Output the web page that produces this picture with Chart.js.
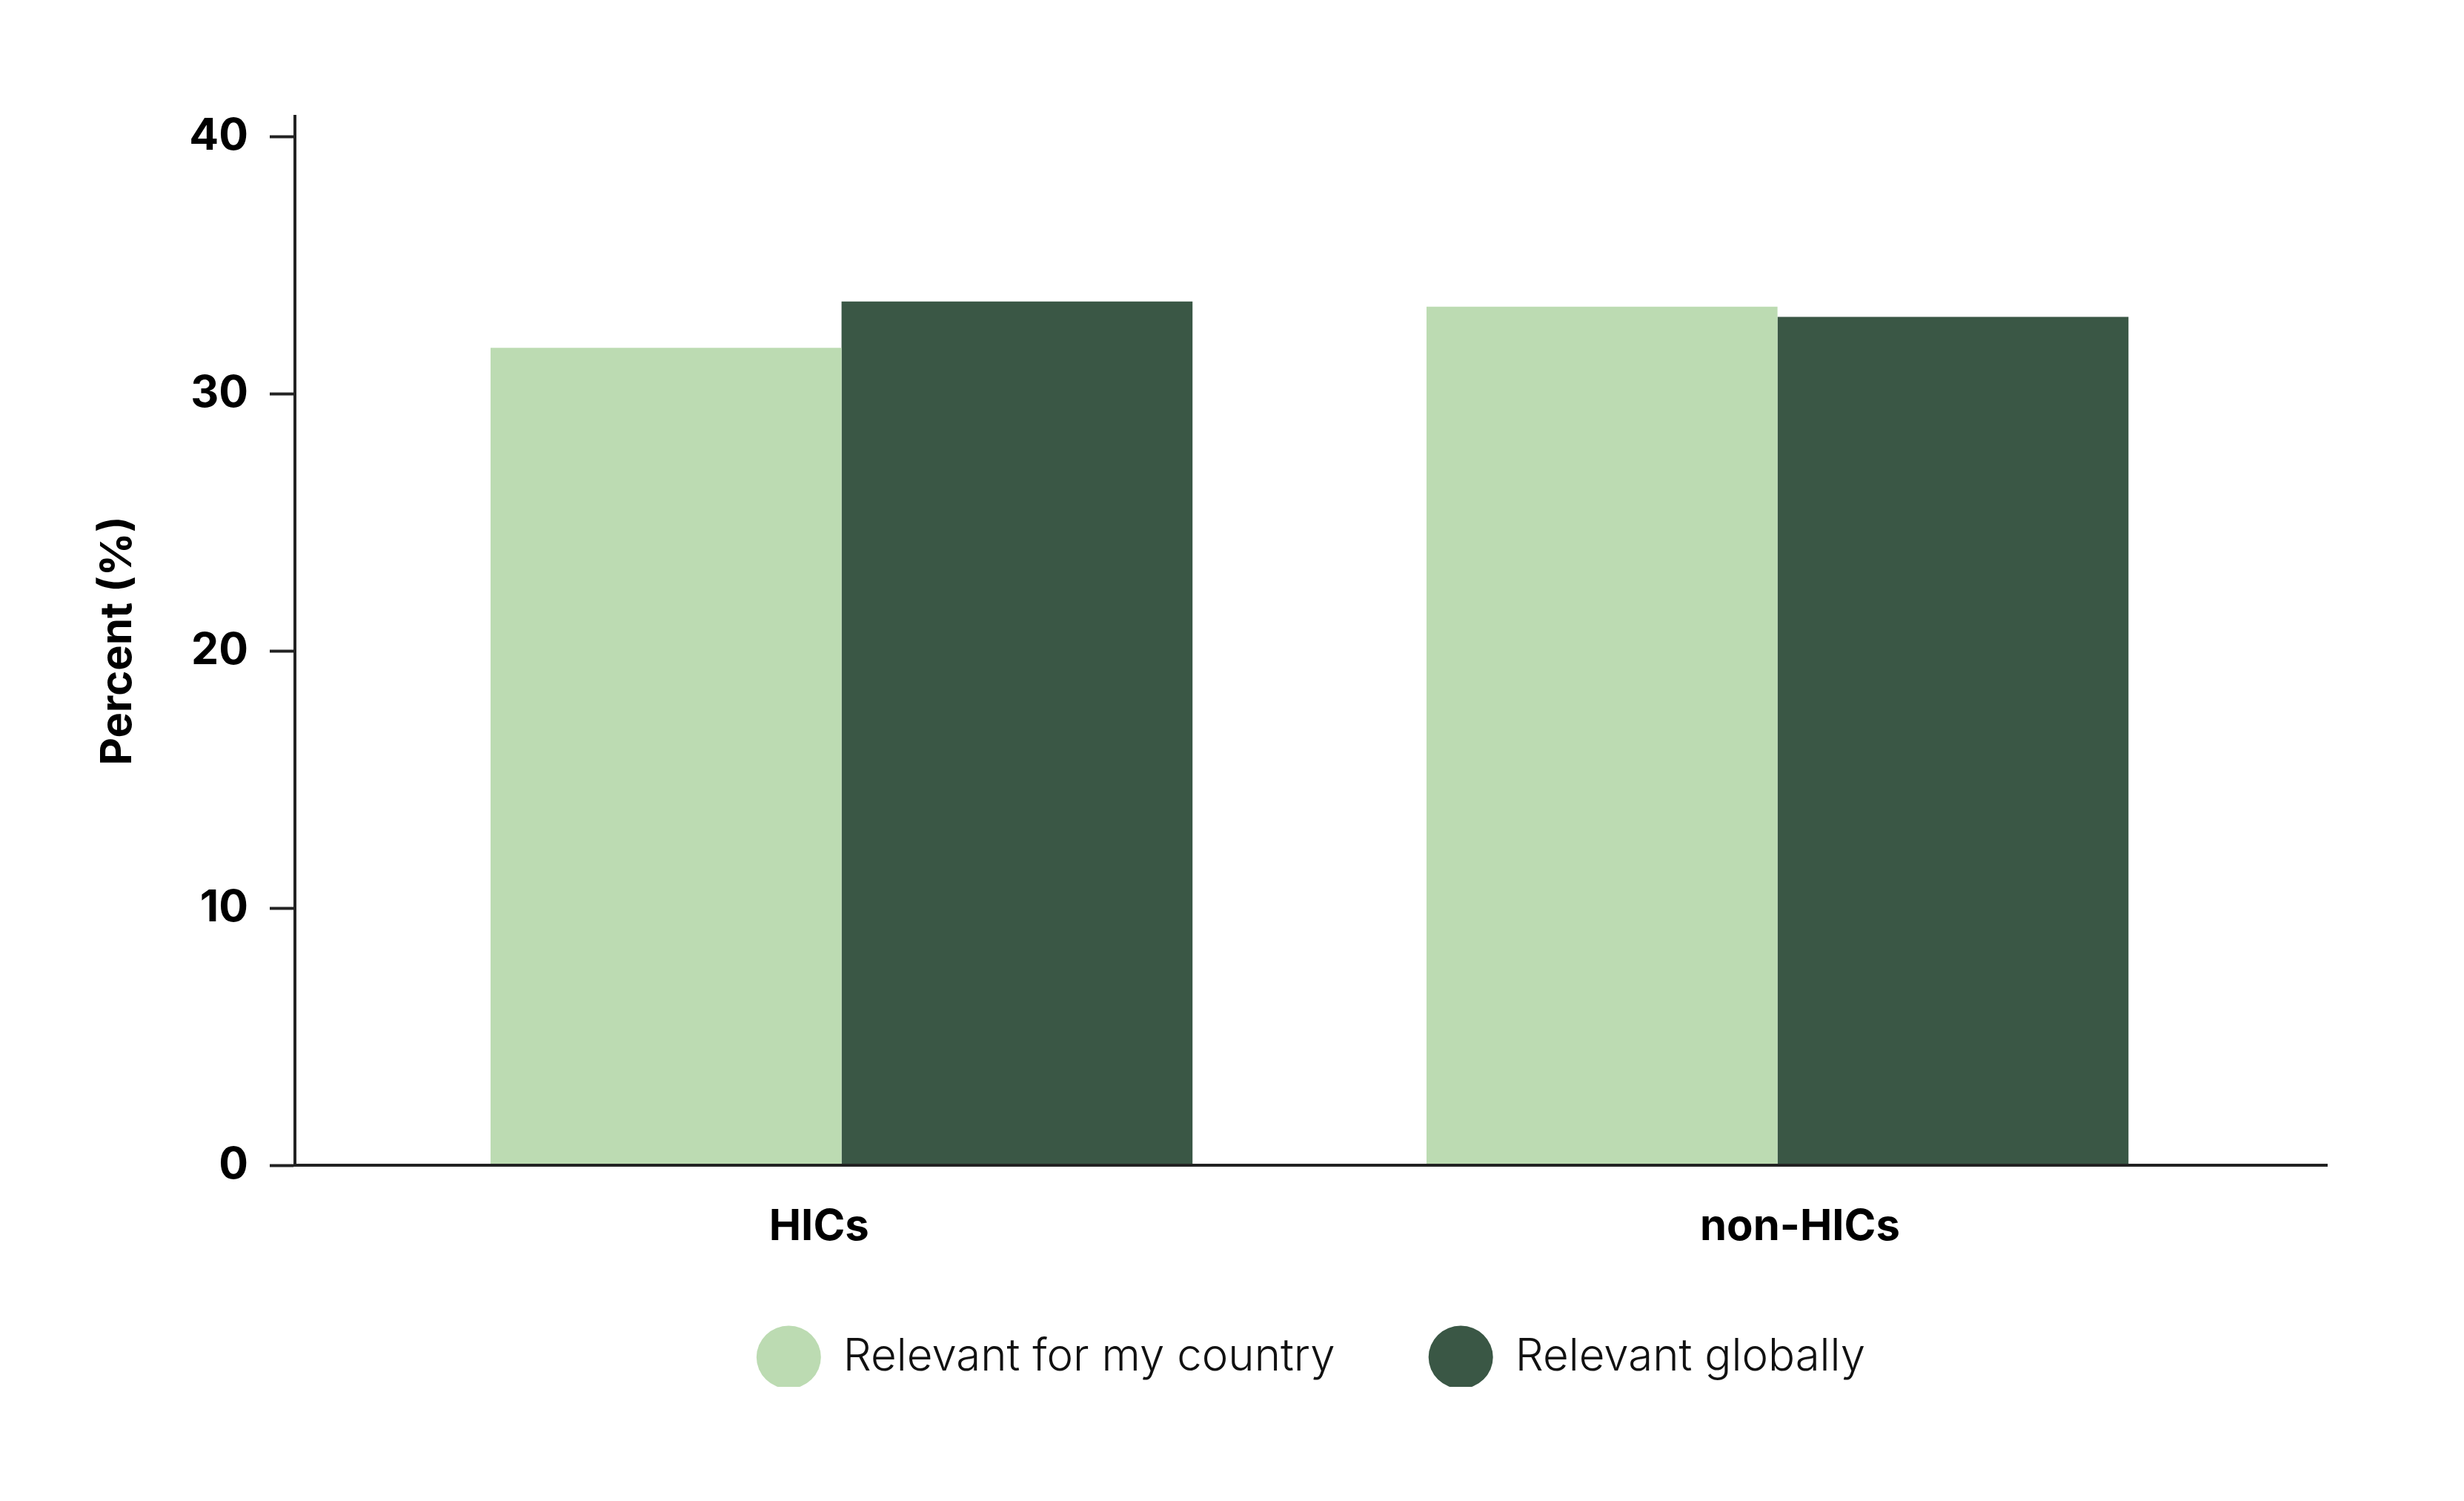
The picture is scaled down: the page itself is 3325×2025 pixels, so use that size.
<!DOCTYPE html>
<html>
<head>
<meta charset="utf-8">
<script src="https://cdn.jsdelivr.net/npm/chart.js@4.4.1/dist/chart.umd.min.js"></script>
<style>
  html, body { margin: 0; padding: 0; background: #fff; }
  #wrap { width: 3325px; height: 2025px; }
</style>
</head>
<body>
<div id="wrap"><canvas id="chart" width="3325" height="2025"></canvas></div>
<script>
// values
const categories = ['HICs', 'non-HICs'];
const seriesNames = ['Relevant for my country', 'Relevant globally'];
const countryValues = [31.8, 33.4];
const globalValues = [33.6, 33.0];
const yTickValues = [0, 10, 20, 30, 40];
const yMax = 40.8;

const LIGHT = '#bcdbb2', DARK = '#3a5745', INK = '#222222';
const FONT = 'Inter, "Noto Sans", sans-serif';
const LABEL_SPREAD = 1.048; // category labels sit a bit wider apart than the bar groups

function pts(vals){ return vals.map((v, i) => ({x: i, y: v})); }

new Chart(document.getElementById('chart'), {
  type: 'bar',
  data: {
    datasets: [
      { label: seriesNames[0], data: pts(countryValues), backgroundColor: LIGHT, borderWidth: 0 },
      { label: seriesNames[1], data: pts(globalValues), backgroundColor: DARK, borderWidth: 0 }
    ]
  },
  options: {
    responsive: false,
    devicePixelRatio: 1,
    animation: false,
    categoryPercentage: 0.75,
    barPercentage: 1.0,
    layout: { padding: { left: 123, right: 185, top: 157, bottom: 154 } },
    plugins: {
      tooltip: { enabled: false },
      legend: {
        position: 'bottom',
        fullSize: false,
        labels: {
          usePointStyle: true,
          pointStyle: 'circle',
          pointStyleWidth: 87,
          padding: 126,
          color: '#111',
          font: { family: FONT, size: 60, weight: 300 }
        }
      }
    },
    scales: {
      x: {
        type: 'linear',
        offset: false,
        min: -0.584,
        max: 1.587,
        afterBuildTicks: ax => { ax.ticks = categories.map((c, i) => ({value: 0.5 + (i - 0.5) * LABEL_SPREAD})); },
        afterFit: ax => { ax.height = 103; },
        grid: { display: false, drawTicks: false },
        border: { display: true, color: INK, width: 4, z: 1 },
        ticks: {
          autoSkip: false, maxRotation: 0, padding: 49,
          color: '#000',
          font: { family: FONT, size: 58, weight: 'bold' },
          callback: v => categories[Math.round(v)] ?? ''
        }
      },
      y: {
        min: 0,
        max: yMax,
        afterBuildTicks: ax => { ax.ticks = yTickValues.map(v => ({value: v})); },
        afterFit: ax => { ax.width = 275; },
        grid: { drawOnChartArea: false, drawTicks: true, tickLength: 34, tickWidth: 4, tickColor: INK },
        border: { display: true, color: INK, width: 4, z: 1 },
        ticks: {
          padding: 29,
          color: '#000',
          font: { family: FONT, size: 59, weight: 'bold' }
        },
        title: {
          display: true,
          text: 'Percent (%)',
          color: '#000',
          padding: { top: 2, bottom: 0 },
          font: { family: FONT, size: 58, weight: 'bold' }
        }
      }
    }
  }
});
</script>
</body>
</html>
